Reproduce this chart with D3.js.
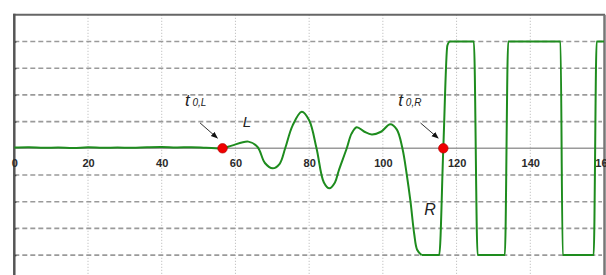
<!DOCTYPE html>
<html>
<head>
<meta charset="utf-8">
<script src="https://cdn.jsdelivr.net/npm/d3@7"></script>
<style>
  body { margin: 0; background: #fff; }
  svg { display: block; }
</style>
</head>
<body>
<script>
// signal samples (time, amplitude in grid units)
const signalT = [0, 4, 8, 12, 16, 20, 24, 28, 32, 36, 40, 44, 48, 52, 56.5,
  59, 63.5, 66, 68, 70.1, 72, 73.5, 75.5, 78, 80, 82, 84, 85.5, 87, 88, 90.2, 91.5, 92.9,
  95, 97, 99.5, 102, 103.8, 105.3, 106.5, 107.5, 108.5, 109.3, 110.5,
  115.3, 116.4, 117.5, 118.2, 124.7, 125.7, 133.1, 134, 148.2, 148.8, 157.2, 158, 160];
const signalV = [0.03, 0.04, 0.02, 0.03, 0.01, 0.04, 0.02, 0.03, 0.02, 0.04, 0.05, 0.03, 0.04, 0.02, 0.0,
  0.1, 0.25, 0.05, -0.55, -0.75, -0.58, 0.0, 0.85, 1.37, 1.05, 0.0, -1.28, -1.5, -1.28, -0.85, 0.0, 0.55, 0.79,
  0.62, 0.52, 0.62, 0.9, 0.7, 0.0, -1.0, -2.0, -3.2, -3.8, -4.0,
  -4.0, 0.0, 3.85, 4.0, 4.0, -4.0, -4.0, 4.0, 4.0, -4.0, -4.0, 4.0, 4.0];

// ringing (L) ends where the square wave (R) begins
const splitT = 110.5;

// start markers
const markerT = [56.5, 116.4];
const markerV = [0, 0];

const xTicks = [0, 20, 40, 60, 80, 100, 120, 140, 160];
const yGrid = [-4, -3, -2, -1, 1, 2, 3, 4];

const width = 606, height = 275;

const svg = d3.select("body").append("svg")
  .attr("width", width)
  .attr("height", height);

const x = d3.scaleLinear().domain([0, 160]).range([14.3, 604]);
const y = d3.scaleLinear().domain([-5, 5]).range([281.8, 14.8]);

// arrowhead
svg.append("defs").append("marker")
  .attr("id", "arrow")
  .attr("viewBox", "0 0 10 10")
  .attr("refX", 9).attr("refY", 5)
  .attr("markerWidth", 7).attr("markerHeight", 7)
  .attr("orient", "auto")
  .append("path")
  .attr("d", "M0,1L10,5L0,9z")
  .attr("fill", "#111");

// vertical dotted grid
svg.append("g").selectAll("line")
  .data(xTicks.filter(d => d > 0 && d < 160))
  .enter().append("line")
  .attr("x1", d => x(d)).attr("x2", d => x(d))
  .attr("y1", y(5)).attr("y2", height)
  .attr("stroke", "#b5b5b5")
  .attr("stroke-width", 1)
  .attr("stroke-dasharray", "1,2");

// horizontal dashed grid
svg.append("g").selectAll("line")
  .data(yGrid)
  .enter().append("line")
  .attr("x1", x(0)).attr("x2", x(160) - 2)
  .attr("y1", d => y(d)).attr("y2", d => y(d))
  .attr("stroke", "#9a9a9a")
  .attr("stroke-width", 1.6)
  .attr("stroke-dasharray", "5,3");

// zero line
svg.append("line")
  .attr("x1", x(0)).attr("x2", x(160))
  .attr("y1", y(0)).attr("y2", y(0))
  .attr("stroke", "#9a9a9a")
  .attr("stroke-width", 1.5);

// top and right border
svg.append("line")
  .attr("x1", x(0) - 1).attr("x2", x(160) + 1)
  .attr("y1", y(5)).attr("y2", y(5))
  .attr("stroke", "#666").attr("stroke-width", 2);
svg.append("line")
  .attr("x1", x(160) + 0.5).attr("x2", x(160) + 0.5)
  .attr("y1", y(5)).attr("y2", height)
  .attr("stroke", "#777").attr("stroke-width", 2.5);

// left axis with small ticks
const yAxis = svg.append("g")
  .attr("transform", "translate(" + x(0) + ",0)")
  .call(d3.axisLeft(y).tickValues(yGrid).tickSize(3).tickFormat(""));
yAxis.select(".domain").remove();
yAxis.selectAll(".tick line").attr("stroke", "#333").attr("stroke-width", 1.5).attr("x2", 2);
svg.append("line")
  .attr("x1", x(0)).attr("x2", x(0))
  .attr("y1", y(5) - 1).attr("y2", height)
  .attr("stroke", "#555").attr("stroke-width", 2.5);

// bottom tick labels on zero line
const xAxis = svg.append("g")
  .attr("transform", "translate(0," + y(0) + ")")
  .call(d3.axisBottom(x).tickValues(xTicks).tickSize(0).tickPadding(11));
xAxis.select(".domain").remove();
xAxis.selectAll("text")
  .style("font-family", "'Liberation Sans', Arial, sans-serif")
  .style("font-size", "11px")
  .style("font-weight", "bold")
  .attr("fill", "#2a2a2a");

// signal: smooth ringing part, then square wave part
const pts = signalT.map((t, i) => [t, signalV[i]]);
const ringing = pts.filter(d => d[0] <= splitT);
const square = pts.filter(d => d[0] >= splitT);

const sig = svg.append("g")
  .attr("fill", "none")
  .attr("stroke", "#1e8c1e")
  .attr("stroke-width", 2)
  .attr("stroke-linejoin", "round");
sig.append("path")
  .datum(ringing)
  .attr("d", d3.line().x(d => x(d[0])).y(d => y(d[1])).curve(d3.curveCatmullRom.alpha(0.5)));
sig.append("path")
  .datum(square)
  .attr("d", d3.line().x(d => x(d[0])).y(d => y(d[1])).curve(d3.curveMonotoneX));

// red dots
svg.append("g").selectAll("circle")
  .data(markerT.map((t, i) => [t, markerV[i]]))
  .enter().append("circle")
  .attr("cx", d => x(d[0])).attr("cy", d => y(d[1]))
  .attr("r", 4.8)
  .attr("fill", "#f00000")
  .attr("stroke", "#a00")
  .attr("stroke-width", 0.6);

// annotations
const font = "'Liberation Sans', Arial, sans-serif";
function tLabel(px, py, sub) {
  const t = svg.append("text")
    .attr("x", px).attr("y", py)
    .style("font-family", font)
    .style("font-style", "italic")
    .attr("fill", "#222");
  t.append("tspan").text("t").style("font-size", "17px");
  t.append("tspan").text(" " + sub).style("font-size", "10px");
}
tLabel(x(46.3), y(1.6), "0,L");
tLabel(x(104.2), y(1.6), "0,R");

svg.append("line")
  .attr("x1", x(50.4)).attr("y1", y(0.95))
  .attr("x2", x(55.1)).attr("y2", y(0.38))
  .attr("stroke", "#333").attr("stroke-width", 1)
  .attr("marker-end", "url(#arrow)");
svg.append("line")
  .attr("x1", x(110.2)).attr("y1", y(0.95))
  .attr("x2", x(115)).attr("y2", y(0.38))
  .attr("stroke", "#333").attr("stroke-width", 1)
  .attr("marker-end", "url(#arrow)");

svg.append("text")
  .attr("x", x(62)).attr("y", y(0.8))
  .style("font-family", font)
  .style("font-style", "italic")
  .style("font-size", "15px")
  .attr("fill", "#222")
  .text("L");
svg.append("text")
  .attr("x", x(111.2)).attr("y", y(-2.5))
  .style("font-family", font)
  .style("font-style", "italic")
  .style("font-size", "16px")
  .attr("fill", "#222")
  .text("R");
</script>
</body>
</html>
